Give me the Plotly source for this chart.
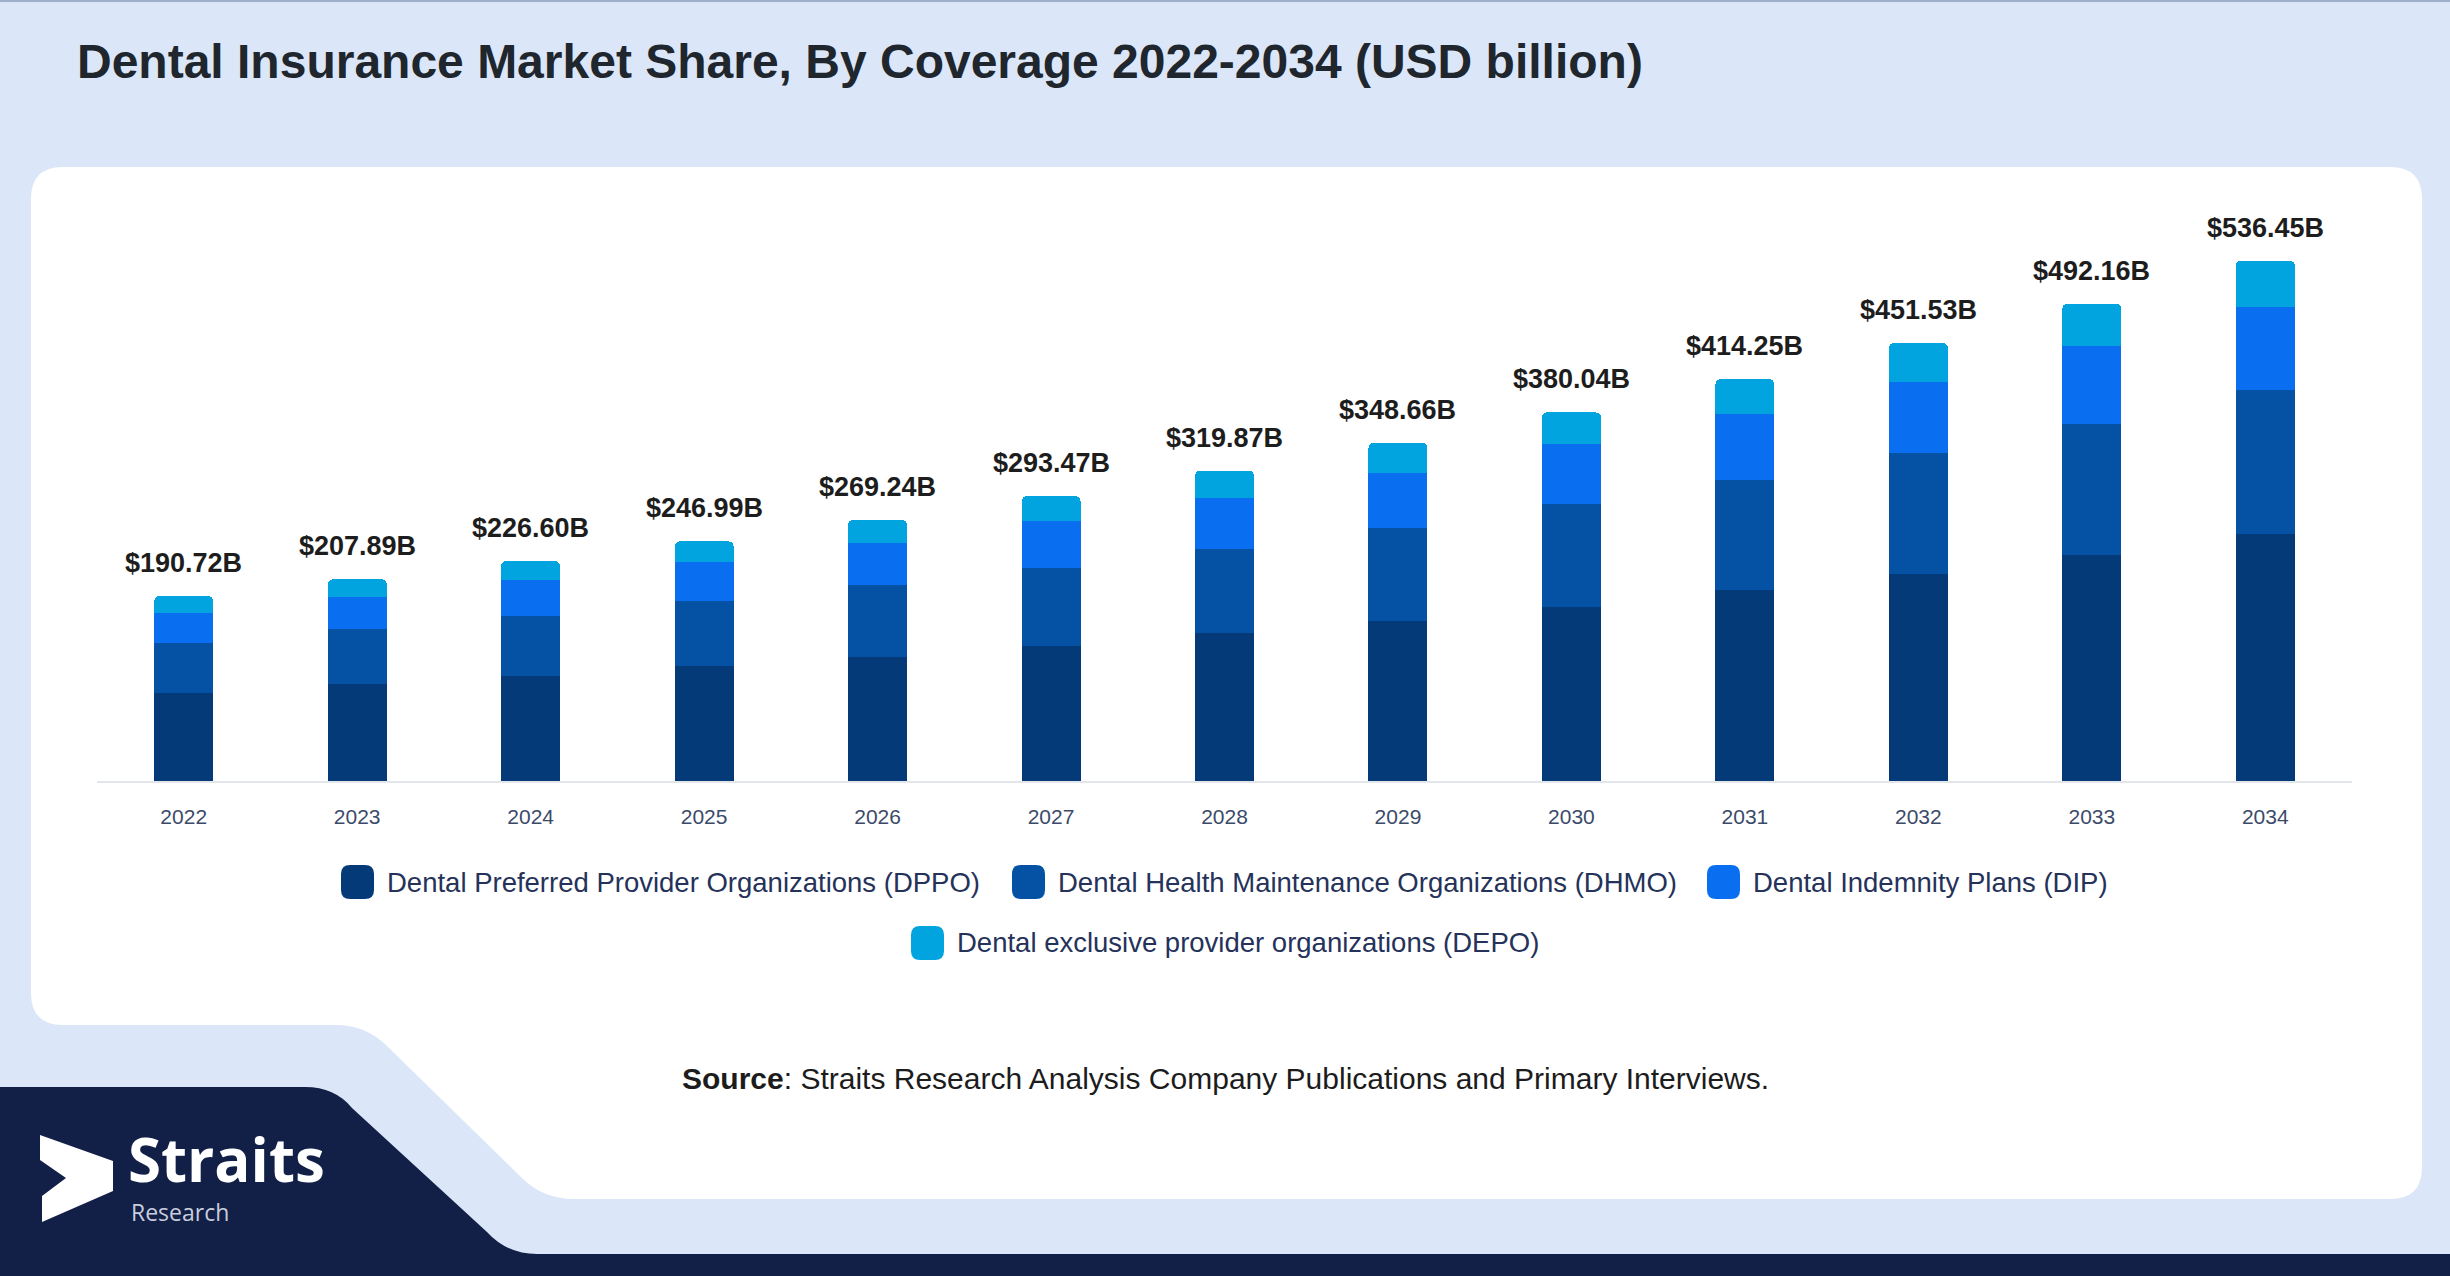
import plotly.graph_objects as go

# ---- data (USD billion) ----
YEARS = ["2022", "2023", "2024", "2025", "2026", "2027", "2028",
         "2029", "2030", "2031", "2032", "2033", "2034"]
TOTALS = [190.72, 207.89, 226.60, 246.99, 269.24, 293.47, 319.87,
          348.66, 380.04, 414.25, 451.53, 492.16, 536.45]
DPPO = [90.3, 99.5, 108.0, 118.2, 127.9, 139.4, 152.2, 164.8, 179.3, 196.4, 213.8, 232.6, 255.0]
DHMO = [52.1, 57.1, 62.2, 67.8, 73.9, 80.5, 87.2, 96.4, 105.9, 114.0, 124.6, 135.7, 147.8]
DIP = [30.6, 33.5, 36.6, 39.4, 43.4, 47.9, 52.0, 56.4, 61.9, 67.5, 73.4, 80.2, 86.3]
DEPO = [17.7, 17.8, 19.8, 21.6, 24.0, 25.7, 28.5, 31.1, 32.9, 36.3, 39.7, 43.7, 47.4]
SERIES_NAMES = [
    "Dental Preferred Provider Organizations (DPPO)",
    "Dental Health Maintenance Organizations (DHMO)",
    "Dental Indemnity Plans (DIP)",
    "Dental exclusive provider organizations (DEPO)",
]

COLORS = ["#053a78", "#0552a5", "#0a6ef0", "#02a4e0"]
FONT = "Liberation Sans"

# page geometry (pixels)
W, H = 2450, 1276
ML, MR, MT, MB = 97, 98, 199, 495
PW = W - ML - MR
PH = H - MT - MB


def fx(x):
    return (x - ML) / PW


def fy(y):
    return (H - MB - y) / PH


def path(cmds):
    # cmds: list of (letter, [x, y, x, y ...]) in pixels -> paper path string
    out = []
    for c, pts in cmds:
        if c == "Z":
            out.append("Z")
            continue
        coords = []
        for i in range(0, len(pts), 2):
            coords.append("%.5f,%.5f" % (fx(pts[i]), fy(pts[i + 1])))
        out.append(c + " ".join(coords))
    return " ".join(out)


def rounded_box(x0, y0, x1, y1, r):
    return path([
        ("M", [x0 + r, y0]), ("L", [x1 - r, y0]), ("Q", [x1, y0, x1, y0 + r]),
        ("L", [x1, y1 - r]), ("Q", [x1, y1, x1 - r, y1]), ("L", [x0 + r, y1]),
        ("Q", [x0, y1, x0, y1 - r]), ("L", [x0, y0 + r]), ("Q", [x0, y0, x0 + r, y0]),
        ("Z", []),
    ])


fig = go.Figure()

series = [DPPO, DHMO, DIP, DEPO]
for i, vals in enumerate(series):
    fig.add_trace(go.Bar(x=YEARS, y=vals, name=SERIES_NAMES[i],
                         marker=dict(color=COLORS[i], line=dict(width=0)),
                         showlegend=False, hoverinfo="x+y+name"))

annotations = []

# total labels above the bars (x given as category index)
for idx, tot in enumerate(TOTALS):
    annotations.append(dict(x=idx, y=tot, xref="x", yref="y", yshift=33,
                            xanchor="center", yanchor="middle", showarrow=False,
                            text="$%.2fB" % tot,
                            font=dict(family=FONT, size=27, color="#1d1d1d", weight="bold")))

shapes = []
# thin top border
shapes.append(dict(type="rect", xref="paper", yref="paper", x0=fx(0), x1=fx(W),
                   y0=fy(0), y1=fy(2), fillcolor="#9eaecb", line=dict(width=0), layer="below"))

# white panel with slanted notch in lower-left
r = 32
white = path([
    ("M", [31 + r, 167]), ("L", [2422 - r, 167]), ("Q", [2422, 167, 2422, 167 + r]),
    ("L", [2422, 1199 - r]), ("Q", [2422, 1199, 2422 - r, 1199]),
    ("L", [575, 1199]), ("Q", [543, 1199, 522, 1178]),
    ("L", [387, 1046]), ("Q", [366, 1025, 336, 1025]),
    ("L", [31 + r, 1025]), ("Q", [31, 1025, 31, 1025 - r]),
    ("L", [31, 167 + r]), ("Q", [31, 167, 31 + r, 167]), ("Z", []),
])
shapes.append(dict(type="path", xref="paper", yref="paper", path=white,
                   fillcolor="white", line=dict(width=0), layer="below"))

# navy footer band
navy = path([
    ("M", [0, 1087]), ("L", [305, 1087]), ("Q", [335, 1087, 352, 1108]),
    ("L", [487, 1232]), ("Q", [507, 1254, 537, 1254]),
    ("L", [W, 1254]), ("L", [W, H]), ("L", [0, H]), ("Z", []),
])
shapes.append(dict(type="path", xref="paper", yref="paper", path=navy,
                   fillcolor="#121f47", line=dict(width=0), layer="below"))

# logo chevron
chev = path([
    ("M", [40, 1135]), ("L", [113, 1161]), ("L", [113, 1191]), ("L", [42, 1222]),
    ("L", [42, 1196]), ("L", [66, 1178]), ("L", [40, 1160]), ("Z", []),
])
shapes.append(dict(type="path", xref="paper", yref="paper", path=chev,
                   fillcolor="white", line=dict(width=0), layer="below"))

# custom legend with big rounded swatches
legend_pos = [(341, 882), (1012, 882), (1707, 882), (911, 943)]
for i, name in enumerate(SERIES_NAMES):
    lx, ly = legend_pos[i]
    shapes.append(dict(type="path", xref="paper", yref="paper",
                       path=rounded_box(lx, ly - 17, lx + 33, ly + 17, 9),
                       fillcolor=COLORS[i], line=dict(width=0)))
    annotations.append(dict(xref="paper", yref="paper", x=fx(lx + 44), y=fy(ly),
                            xanchor="left", yanchor="middle", showarrow=False,
                            text=name, font=dict(family=FONT, size=27.5, color="#25325a")))

# title
annotations.append(dict(xref="paper", yref="paper", x=fx(75), y=fy(62),
                        xanchor="left", yanchor="middle", showarrow=False,
                        text="<b>Dental Insurance Market Share, By Coverage 2022-2034 (USD billion)</b>",
                        font=dict(family=FONT, size=48, color="#20262e")))

# source
annotations.append(dict(xref="paper", yref="paper", x=fx(W / 2), y=fy(1078),
                        xanchor="center", yanchor="middle", showarrow=False,
                        text="<b>Source</b>: Straits Research Analysis Company Publications and Primary Interviews.",
                        font=dict(family=FONT, size=30, color="#1c1c1c")))

# logo text
annotations.append(dict(xref="paper", yref="paper", x=fx(126), y=fy(1159),
                        xanchor="left", yanchor="middle", showarrow=False,
                        text="<b>Straits</b>",
                        font=dict(family="Open Sans", size=60, color="white")))
annotations.append(dict(xref="paper", yref="paper", x=fx(129), y=fy(1212),
                        xanchor="left", yanchor="middle", showarrow=False,
                        text="Research",
                        font=dict(family="Open Sans", size=23, color="#c8cedd")))

fig.update_layout(
    width=W, height=H,
    margin=dict(l=ML, r=MR, t=MT, b=MB, pad=0),
    paper_bgcolor="#dbe7f8",
    plot_bgcolor="rgba(0,0,0,0)",
    barmode="stack",
    bargap=0.66,
    barcornerradius=5,
    showlegend=False,
    shapes=shapes,
    annotations=annotations,
    font=dict(family=FONT),
)

fig.update_xaxes(
    type="category", range=[-0.5, len(YEARS) - 0.5],
    showline=True, linecolor="#e2e5ea", linewidth=2,
    showgrid=False, zeroline=False, ticks="",
    tickfont=dict(family=FONT, size=21, color="#3c4a6a"),
    ticklabelstandoff=16,
)
fig.update_yaxes(
    range=[0, 600], showgrid=False, zeroline=False,
    showticklabels=False, showline=False, fixedrange=True,
)

fig.write_html("out.html", config={"displayModeBar": False},
               post_script="document.body.style.margin='0';")
